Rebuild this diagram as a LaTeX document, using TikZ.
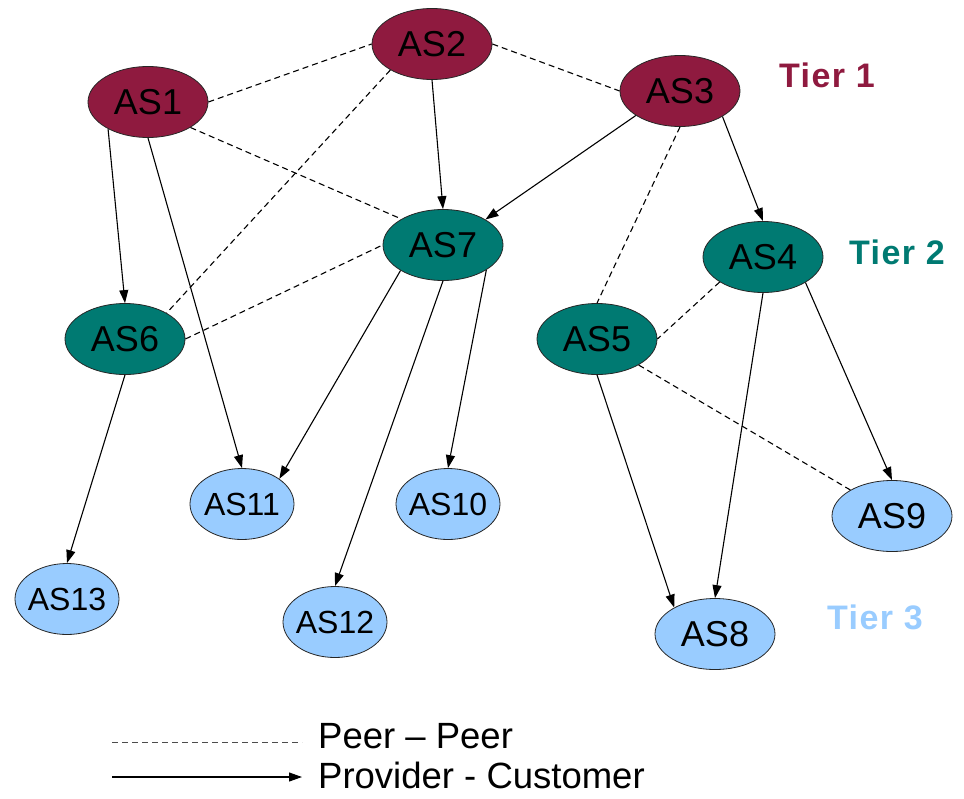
\documentclass[tikz,border=0pt]{standalone}
\usepackage{fontspec}
\setmainfont{Liberation Sans}
\usetikzlibrary{shapes.geometric,arrows.meta}
\definecolor{tierone}{RGB}{143,26,63}
\definecolor{tiertwo}{RGB}{0,122,114}
\definecolor{tierthree}{RGB}{153,204,255}
\newcommand{\nolbl}[1]{\makebox[0pt]{#1}}
\begin{document}
\begin{tikzpicture}[x=1pt,y=-1pt,
  asnode/.style={ellipse,draw=black!85,line width=0.8pt,inner sep=0pt,minimum width=120pt,minimum height=71pt,font=\fontsize{36}{36}\selectfont},
  t1/.style={asnode,fill=tierone},
  t2/.style={asnode,fill=tiertwo},
  t3/.style={asnode,fill=tierthree},
  smallnode/.style={minimum width=104pt,minimum height=71pt,font=\fontsize{32}{32}\selectfont},
  link/.style={line width=1.1pt,-{Triangle[length=13pt,width=9pt]}},
  peer/.style={line width=1.1pt,dash pattern=on 6pt off 4pt},
  tier/.style={font=\fontsize{34}{34}\selectfont\bfseries\addfontfeature{LetterSpace=4}},
  legend/.style={font=\fontsize{36.5}{36.5}\selectfont,anchor=base west,inner sep=0pt}]
\useasboundingbox (0,0) rectangle (964,798);

% nodes
\node[t1] (as1) at (148,102) {\nolbl{AS1}};
\node[t1] (as2) at (432,44) {\nolbl{AS2}};
\node[t1] (as3) at (680,91) {\nolbl{AS3}};
\node[t2] (as4) at (763,257) {\nolbl{AS4}};
\node[t2] (as5) at (597,339) {\nolbl{AS5}};
\node[t2] (as6) at (125,339) {\nolbl{AS6}};
\node[t2] (as7) at (443,245) {\nolbl{AS7}};
\node[t3] (as8) at (715,634) {\nolbl{AS8}};
\node[t3] (as9) at (892,516) {\nolbl{AS9}};
\node[t3,smallnode] (as10) at (448,504) {\nolbl{AS10}};
\node[t3,smallnode] (as11) at (242,504) {\nolbl{AS11}};
\node[t3,smallnode] (as12) at (335,622) {\nolbl{AS12}};
\node[t3,smallnode] (as13) at (67,599) {\nolbl{AS13}};

% tier labels
\node[tier,text=tierone] (tier1) at (827,75) {Tier 1};
\node[tier,text=tiertwo] (tier2) at (897,252) {Tier 2};
\node[tier,text=tierthree] (tier3) at (875,617) {Tier 3};

% provider -> customer
\draw[link] (as1.214) -- (as6.north);
\draw[link] (as1.south) -- (as11.north);
\draw[link] (as2.south) -- (as7.north);
\draw[link] (as3.209) -- (as7.31);
\draw[link] (as3.329) -- (as4.north);
\draw[link] (as6.south) -- (as13.north);
\draw[link] (as7.211) -- (as11.34);
\draw[link] (as7.south) -- (as12.north);
\draw[link] (as7.330) -- (as10.north);
\draw[link] (as5.south) -- (as8.147);
\draw[link] (as4.south) -- (as8.north);
\draw[link] (as4.329) -- (as9.north);

% peer - peer
\draw[peer] (as1.east) -- (as2.west);
\draw[peer] (as2.east) -- (as3.west);
\draw[peer] (as1.329) -- (as7.148);
\draw[peer] (as2.212) -- (as6.32);
\draw[peer] (as6.east) -- (as7.west);
\draw[peer] (as3.south) -- (as5.north);
\draw[peer] (as4.210) -- (as5.east);
\draw[peer] (as5.328) -- (as9.148);

% legend
\coordinate (lpa) at (112,742);
\coordinate (lpb) at (302,742);
\coordinate (lca) at (112,777);
\coordinate (lcb) at (302,777);
\draw[peer,line width=0.9pt,black!70] (lpa) -- (lpb);
\draw[link] (lca) -- (lcb);
\node[legend] (lpeer) at (318,748) {Peer – Peer};
\node[legend] (lprov) at (318,788) {Provider - Customer};
\end{tikzpicture}
\end{document}
